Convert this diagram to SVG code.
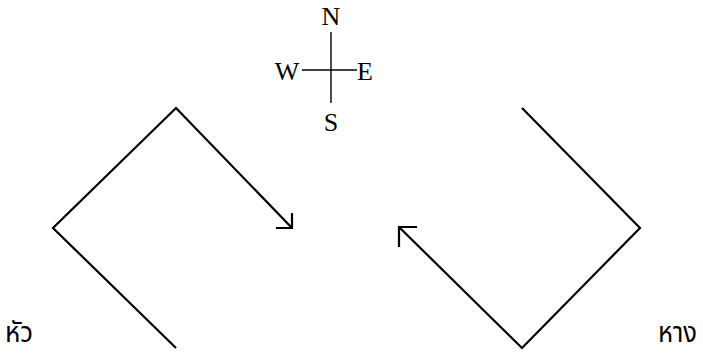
<svg xmlns="http://www.w3.org/2000/svg" width="703" height="356" viewBox="0 0 703 356">
  <style>
    .ln { fill: none; stroke: #000; stroke-width: 2.2; stroke-linecap: butt; stroke-linejoin: miter; }
    .thin { fill: none; stroke: #000; stroke-width: 1.4; }
    .lbl { font-family: "Liberation Serif", "Times New Roman", serif; font-size: 26px; fill: #000; }
    .th { font-family: "Noto Sans Thai", "Noto Sans", "DejaVu Sans", sans-serif; font-size: 28px; fill: #000; }
  </style>
  <rect width="703" height="356" fill="#fff"/>
  <g id="compass">
    <line class="thin" x1="331" y1="32" x2="331" y2="103"/>
    <line class="thin" x1="302" y1="70" x2="357" y2="70"/>
    <text class="lbl" x="331" y="25" text-anchor="middle">N</text>
    <text class="lbl" x="287" y="80" text-anchor="middle">W</text>
    <text class="lbl" x="357" y="80">E</text>
    <text class="lbl" x="331" y="131" text-anchor="middle">S</text>
  </g>
  <g id="connectors">
    <polyline id="path-left" class="ln" points="176,348 53,228 176,108 292,228"/>
    <polyline class="ln" points="276,228 292,228 292,213"/>
    <polyline id="path-right" class="ln" points="522,108 640,228 522,348 399,227"/>
    <polyline class="ln" points="417,227 399,227 399,247"/>
  </g>
  <g id="head">
    <text class="th" x="5" y="342" textLength="28" lengthAdjust="spacingAndGlyphs">หัว</text>
  </g>
  <g id="tail">
    <text class="th" x="658" y="342" textLength="39" lengthAdjust="spacingAndGlyphs">หาง</text>
  </g>
</svg>
